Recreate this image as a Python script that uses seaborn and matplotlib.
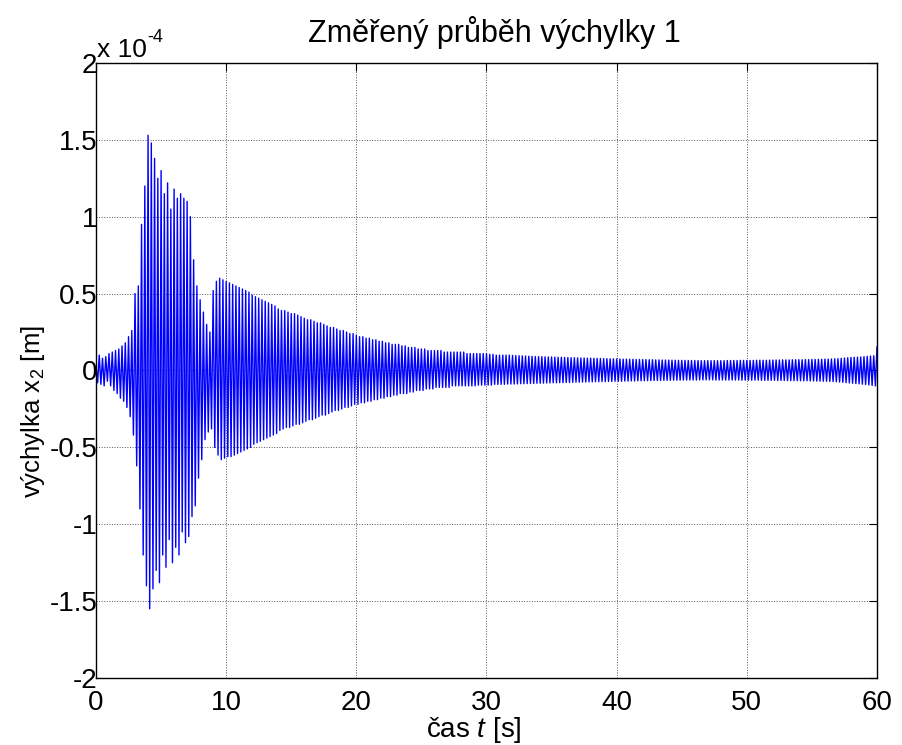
import numpy as np
import pandas as pd
import matplotlib
matplotlib.use("Agg")
import matplotlib.pyplot as plt
import seaborn as sns

# ---- data: displacement in units of 1e-4 m, one value every 0.125 s ----
sample_step = 0.125
x2_e4 = [
    # 0 - 1.875 s
    0.03, -0.08, 0.10, -0.09, 0.08, -0.10, 0.09, -0.07, 0.11, -0.10, 0.12, -0.13, 0.13, -0.15, 0.14, -0.18,
    # 2 - 3.875 s
    0.16, -0.20, 0.18, -0.24, 0.22, -0.30, 0.26, -0.42, 0.50, -0.62, 0.55, -0.90, 0.95, -1.20, 1.20, -1.40,
    # 4 - 5.875 s
    1.53, -1.55, 1.48, -1.42, 1.38, -1.30, 1.25, -1.38, 1.30, -1.20, 1.15, -1.28, 1.22, -1.10, 1.05, -1.25,
    # 6 - 7.875 s
    1.18, -1.15, 1.12, -1.20, 1.15, -1.05, 1.12, -1.12, 1.10, -1.08, 1.00, -0.95, 0.72, -0.88, 0.55, -0.70,
    # 8 - 9.875 s
    0.46, -0.58, 0.38, -0.45, 0.30, -0.40, 0.25, -0.38, 0.52, -0.50, 0.58, -0.55, 0.60, -0.58, 0.59, -0.57,
    # 10 - 11.875 s
    0.58, -0.56, 0.57, -0.56, 0.56, -0.55, 0.55, -0.54, 0.54, -0.53, 0.53, -0.52, 0.52, -0.51, 0.51, -0.50,
    # 12 - 13.875 s
    0.49, -0.48, 0.48, -0.47, 0.47, -0.46, 0.46, -0.45, 0.45, -0.44, 0.44, -0.43, 0.43, -0.42, 0.42, -0.41,
    # 14 - 15.875 s
    0.40, -0.39, 0.39, -0.38, 0.39, -0.37, 0.38, -0.37, 0.37, -0.36, 0.37, -0.35, 0.36, -0.35, 0.35, -0.34,
    # 16 - 17.875 s
    0.34, -0.33, 0.33, -0.32, 0.33, -0.32, 0.32, -0.31, 0.31, -0.30, 0.31, -0.29, 0.30, -0.29, 0.29, -0.28,
    # 18 - 19.875 s
    0.28, -0.27, 0.28, -0.26, 0.27, -0.26, 0.26, -0.25, 0.26, -0.24, 0.25, -0.24, 0.24, -0.23, 0.24, -0.22,
    # 20 - 21.875 s
    0.23, -0.22, 0.22, -0.21, 0.22, -0.21, 0.21, -0.20, 0.21, -0.20, 0.20, -0.19, 0.20, -0.19, 0.19, -0.18,
    # 22 - 23.875 s
    0.19, -0.18, 0.18, -0.17, 0.18, -0.17, 0.17, -0.16, 0.17, -0.16, 0.17, -0.15, 0.16, -0.15, 0.16, -0.15,
    # 24 - 25.875 s
    0.15, -0.14, 0.15, -0.14, 0.15, -0.13, 0.14, -0.13, 0.14, -0.13, 0.14, -0.12, 0.13, -0.12, 0.13, -0.12,
    # 26 - 27.875 s
    0.13, -0.11, 0.13, -0.11, 0.13, -0.11, 0.12, -0.11, 0.12, -0.11, 0.12, -0.10, 0.12, -0.10, 0.12, -0.10,
    # 28 - 29.875 s
    0.12, -0.10, 0.12, -0.10, 0.11, -0.10, 0.11, -0.10, 0.11, -0.10, 0.11, -0.095, 0.11, -0.095, 0.11, -0.095,
    # 30 - 31.875 s
    0.11, -0.095, 0.105, -0.095, 0.105, -0.09, 0.10, -0.09, 0.10, -0.09, 0.10, -0.09, 0.10, -0.088, 0.10, -0.088,
    # 32 - 33.875 s
    0.098, -0.088, 0.097, -0.087, 0.096, -0.086, 0.095, -0.086, 0.094, -0.085, 0.093, -0.085, 0.092, -0.084, 0.091, -0.083,
    # 34 - 35.875 s
    0.09, -0.083, 0.09, -0.082, 0.089, -0.081, 0.088, -0.081, 0.088, -0.08, 0.087, -0.08, 0.086, -0.079, 0.086, -0.079,
    # 36 - 37.875 s
    0.085, -0.078, 0.084, -0.078, 0.083, -0.077, 0.083, -0.076, 0.082, -0.076, 0.081, -0.075, 0.081, -0.075, 0.08, -0.074,
    # 38 - 39.875 s
    0.08, -0.074, 0.079, -0.073, 0.079, -0.073, 0.078, -0.072, 0.077, -0.072, 0.077, -0.071, 0.076, -0.071, 0.076, -0.07,
    # 40 - 41.875 s
    0.075, -0.07, 0.075, -0.07, 0.074, -0.069, 0.074, -0.069, 0.073, -0.068, 0.073, -0.068, 0.072, -0.067, 0.072, -0.067,
    # 42 - 43.875 s
    0.071, -0.066, 0.071, -0.066, 0.07, -0.066, 0.07, -0.065, 0.069, -0.065, 0.069, -0.065, 0.068, -0.064, 0.068, -0.064,
    # 44 - 45.875 s
    0.068, -0.064, 0.067, -0.063, 0.067, -0.063, 0.066, -0.063, 0.066, -0.062, 0.066, -0.062, 0.065, -0.062, 0.065, -0.062,
    # 46 - 47.875 s
    0.065, -0.062, 0.065, -0.061, 0.064, -0.061, 0.064, -0.061, 0.064, -0.061, 0.064, -0.061, 0.064, -0.062, 0.064, -0.062,
    # 48 - 49.875 s
    0.064, -0.062, 0.064, -0.062, 0.065, -0.062, 0.065, -0.062, 0.065, -0.062, 0.065, -0.062, 0.066, -0.063, 0.066, -0.063,
    # 50 - 51.875 s
    0.066, -0.063, 0.066, -0.063, 0.066, -0.063, 0.067, -0.063, 0.067, -0.064, 0.067, -0.064, 0.067, -0.064, 0.068, -0.064,
    # 52 - 53.875 s
    0.068, -0.064, 0.068, -0.065, 0.068, -0.065, 0.069, -0.065, 0.069, -0.066, 0.069, -0.066, 0.07, -0.066, 0.07, -0.066,
    # 54 - 55.875 s
    0.07, -0.067, 0.07, -0.067, 0.071, -0.067, 0.071, -0.068, 0.072, -0.068, 0.072, -0.069, 0.073, -0.069, 0.073, -0.07,
    # 56 - 57.875 s
    0.074, -0.07, 0.074, -0.071, 0.075, -0.072, 0.076, -0.073, 0.077, -0.075, 0.079, -0.077, 0.081, -0.079, 0.083, -0.081,
    # 58 - 59.875 s
    0.085, -0.083, 0.086, -0.085, 0.087, -0.087, 0.088, -0.089, 0.09, -0.091, 0.092, -0.094, 0.094, -0.097, 0.096, -0.10,
    # 60 s
    0.155,
]
x_ticks = [0, 10, 20, 30, 40, 50, 60]
y_ticks = [-2, -1.5, -1, -0.5, 0, 0.5, 1, 1.5, 2]
y_tick_labels = ["-2", "-1.5", "-1", "-0.5", "0", "0.5", "1", "1.5", "2"]
title = "Změřený průběh výchylky 1"
xlabel = "čas $t$ [s]"
ylabel = "výchylka x$_\\mathregular{2}$ [m]"
exp_base = "x 10"
exp_power = "-4"

t = np.round(np.arange(len(x2_e4)) * sample_step, 3)
df = pd.DataFrame({"t": t, "x2": x2_e4})

sns.set_style("white")
plt.rcParams["font.family"] = ["Liberation Sans", "DejaVu Sans"]
plt.rcParams["mathtext.fontset"] = "custom"
plt.rcParams["mathtext.rm"] = "Liberation Sans"
plt.rcParams["mathtext.it"] = "Liberation Sans:italic"
plt.rcParams["axes.unicode_minus"] = False
plt.rcParams["text.color"] = "black"
plt.rcParams["axes.labelcolor"] = "black"
plt.rcParams["xtick.color"] = "black"
plt.rcParams["ytick.color"] = "black"

W, H = 903, 745
fig = plt.figure(figsize=(W / 100, H / 100), dpi=100)
ax_l, ax_r, ax_t, ax_b = 96, 877, 63, 678
ax = fig.add_axes([ax_l / W, (H - ax_b) / H, (ax_r - ax_l) / W, (ax_b - ax_t) / H])

sns.lineplot(data=df, x="t", y="x2", color="#0000ff", lw=1.0,
             estimator=None, sort=False, ax=ax)

ax.set_xlim(0, 60)
ax.set_ylim(-2, 2)
ax.set_xticks(x_ticks)
ax.set_xticklabels([str(v) for v in x_ticks])
ax.set_yticks(y_ticks)
ax.set_yticklabels(y_tick_labels)
ax.tick_params(direction="in", length=6, width=0.8, labelsize=20,
               top=True, right=True, colors="black")
ax.tick_params(axis="x", pad=9)
ax.tick_params(axis="y", pad=-1)
ax.grid(True, linestyle=":", color="#555555", linewidth=0.7)
for s in ax.spines.values():
    s.set_color("black")
    s.set_linewidth(1.0)

aw, ah = ax_r - ax_l, ax_b - ax_t
ax.set_title(title, fontsize=22, pad=0, va="baseline", color="black",
             x=(494 - ax_l) / aw, y=(ax_b - 42) / ah)
ax.set_xlabel(xlabel, fontsize=20)
ax.xaxis.set_label_coords((474 - ax_l) / aw, (ax_b - 737) / ah)
ax.xaxis.label.set_va("baseline")
ax.set_ylabel(ylabel, fontsize=18.5)
ax.yaxis.set_label_coords((33 - ax_l) / aw, (ax_b - 412) / ah)
ax.yaxis.label.set_va("center")

# MATLAB-style exponent label
fig.text(97 / W, 1 - 57 / H, exp_base, fontsize=19, ha="left", va="baseline")
fig.text(147 / W, 1 - 42 / H, exp_power, fontsize=13, ha="left", va="baseline")

fig.savefig("out.png", dpi=100)
